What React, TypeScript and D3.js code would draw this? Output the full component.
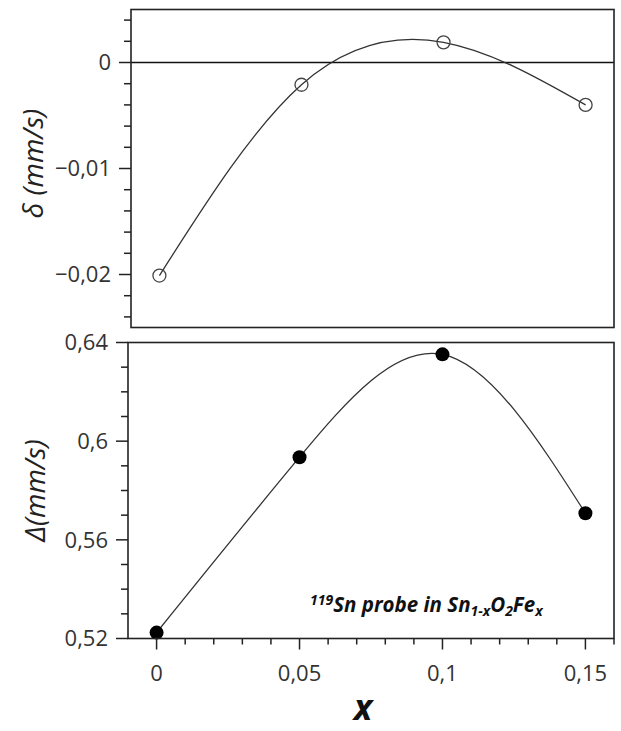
import React from "react";
import * as d3 from "d3";

const xValues = [0, 0.05, 0.1, 0.15];
const isomerShift = [-0.0201, -0.0021, 0.0019, -0.004];
const quadSplit = [0.5224, 0.5935, 0.6352, 0.5708];

const xMajorTicks = [0, 0.05, 0.1, 0.15];
const xMajorLabels = ["0", "0,05", "0,1", "0,15"];
const topMajorTicks = [0, -0.01, -0.02];
const topMajorLabels = ["0", "\u22120,01", "\u22120,02"];
const bottomMajorTicks = [0.52, 0.56, 0.6, 0.64];
const bottomMajorLabels = ["0,52", "0,56", "0,6", "0,64"];

const W = 621;
const H = 731;
const FONT = "'Open Sans', 'Noto Sans', sans-serif";
const TXT = "#333";

function range(a: number, b: number, step: number) {
  const out: number[] = [];
  const n = Math.round((b - a) / step);
  for (let i = 0; i <= n; i++) out.push(+(a + i * step).toFixed(6));
  return out;
}

export default function App() {
  // top panel
  const xTop = d3.scaleLinear().domain([-0.01, 0.16]).range([131, 614]);
  const yTop = d3.scaleLinear().domain([-0.025, 0.005]).range([327.5, 9.5]);
  // bottom panel
  const xBot = d3.scaleLinear().domain([-0.01, 0.16]).range([128, 614]);
  const yBot = d3.scaleLinear().domain([0.52, 0.64]).range([638.5, 342.5]);

  const topPts = xValues.map((x, i) => [x, isomerShift[i]] as [number, number]);
  const botPts = xValues.map((x, i) => [x, quadSplit[i]] as [number, number]);

  const lineTop = d3
    .line<[number, number]>()
    .x((d) => xTop(d[0]))
    .y((d) => yTop(d[1]))
    .curve(d3.curveNatural);
  const lineBot = d3
    .line<[number, number]>()
    .x((d) => xBot(d[0]))
    .y((d) => yBot(d[1]))
    .curve(d3.curveNatural);

  const topMinor = range(-0.024, 0.004, 0.002).filter(
    (v) => !topMajorTicks.some((m) => Math.abs(m - v) < 1e-9)
  );
  const botMinor = range(0.52, 0.64, 0.01).filter(
    (v) => !bottomMajorTicks.some((m) => Math.abs(m - v) < 1e-9)
  );
  const xMinor = range(0, 0.16, 0.01).filter(
    (v) => !xMajorTicks.some((m) => Math.abs(m - v) < 1e-9)
  );

  const [tx0, tx1] = xTop.range();
  const [ty1, ty0] = yTop.range();
  const [bx0, bx1] = xBot.range();
  const [by1, by0] = yBot.range();

  return (
    <svg
      width={W}
      height={H}
      style={{ position: "absolute", left: 0, top: 0, background: "#fff" }}
      fontFamily={FONT}
    >
      <rect x={0} y={0} width={W} height={H} fill="#fff" />
      {/* ===== TOP PANEL ===== */}
      <line x1={tx0} x2={tx1} y1={yTop(0)} y2={yTop(0)} stroke="#111" strokeWidth={1.5} />
      <path d={lineTop(topPts) || ""} fill="none" stroke="#333" strokeWidth={1.3} />
      {topPts.map((p, i) => (
        <circle
          key={"tc" + i}
          cx={xTop(p[0])}
          cy={yTop(p[1])}
          r={6.5}
          fill="none"
          stroke="#444"
          strokeWidth={1.3}
        />
      ))}
      <rect
        x={tx0}
        y={ty0}
        width={tx1 - tx0}
        height={ty1 - ty0}
        fill="none"
        stroke="#222"
        strokeWidth={1.6}
      />
      {topMajorTicks.map((v, i) => (
        <g key={"tm" + i}>
          <line x1={tx0 - 12} x2={tx0} y1={yTop(v)} y2={yTop(v)} stroke="#222" strokeWidth={1.5} />
          <text
            x={tx0 - 20}
            y={yTop(v)}
            dy="0.35em"
            textAnchor="end"
            fontSize={22}
            fill={TXT}
          >
            {topMajorLabels[i]}
          </text>
        </g>
      ))}
      {topMinor.map((v, i) => (
        <line key={"tn" + i} x1={tx0 - 7} x2={tx0} y1={yTop(v)} y2={yTop(v)} stroke="#222" strokeWidth={1.5} />
      ))}
      <text
        transform={`translate(43,${(ty0 + ty1) / 2 - 5}) rotate(-90)`}
        textAnchor="middle"
        fontSize={28}
        fontStyle="italic"
        fill="#222"
      >
        δ (mm/s)
      </text>

      {/* ===== BOTTOM PANEL ===== */}
      <path d={lineBot(botPts) || ""} fill="none" stroke="#333" strokeWidth={1.3} />
      {botPts.map((p, i) => (
        <circle key={"bc" + i} cx={xBot(p[0])} cy={yBot(p[1])} r={7} fill="#000" />
      ))}
      <rect
        x={bx0}
        y={by0}
        width={bx1 - bx0}
        height={by1 - by0}
        fill="none"
        stroke="#222"
        strokeWidth={1.6}
      />
      {bottomMajorTicks.map((v, i) => (
        <g key={"bm" + i}>
          <line x1={bx0 - 12} x2={bx0} y1={yBot(v)} y2={yBot(v)} stroke="#222" strokeWidth={1.5} />
          <text
            x={bx0 - 20}
            y={yBot(v)}
            dy="0.35em"
            textAnchor="end"
            fontSize={22}
            fill={TXT}
          >
            {bottomMajorLabels[i]}
          </text>
        </g>
      ))}
      {botMinor.map((v, i) => (
        <line key={"bn" + i} x1={bx0 - 7} x2={bx0} y1={yBot(v)} y2={yBot(v)} stroke="#222" strokeWidth={1.5} />
      ))}
      {xMajorTicks.map((v, i) => (
        <g key={"xm" + i}>
          <line x1={xBot(v)} x2={xBot(v)} y1={by1} y2={by1 + 11} stroke="#222" strokeWidth={1.5} />
          <text x={xBot(v)} y={681} textAnchor="middle" fontSize={22} fill={TXT}>
            {xMajorLabels[i]}
          </text>
        </g>
      ))}
      {xMinor.map((v, i) => (
        <line key={"xn" + i} x1={xBot(v)} x2={xBot(v)} y1={by1} y2={by1 + 6} stroke="#222" strokeWidth={1.5} />
      ))}
      <text
        transform={`translate(45,${(by0 + by1) / 2}) rotate(-90)`}
        textAnchor="middle"
        fontSize={28}
        fontStyle="italic"
        fill="#222"
      >
        Δ(mm/s)
      </text>
      <text
        x={(bx0 + bx1) / 2 - 8}
        y={720}
        textAnchor="middle"
        fontSize={35}
        fontWeight="bold"
        fontStyle="italic"
        fill="#111"
      >
        x
      </text>

      {/* annotation */}
      <text x={310} y={612} fontSize={20.5} fontWeight="bold" fontStyle="italic" fill="#111">
        <tspan fontSize={14} dy={-7}>119</tspan>
        <tspan dy={7}>Sn probe in Sn</tspan>
        <tspan fontSize={14} dy={4}>1-x</tspan>
        <tspan dy={-4}>O</tspan>
        <tspan fontSize={14} dy={4}>2</tspan>
        <tspan dy={-4}>Fe</tspan>
        <tspan fontSize={14} dy={4}>x</tspan>
      </text>
    </svg>
  );
}
